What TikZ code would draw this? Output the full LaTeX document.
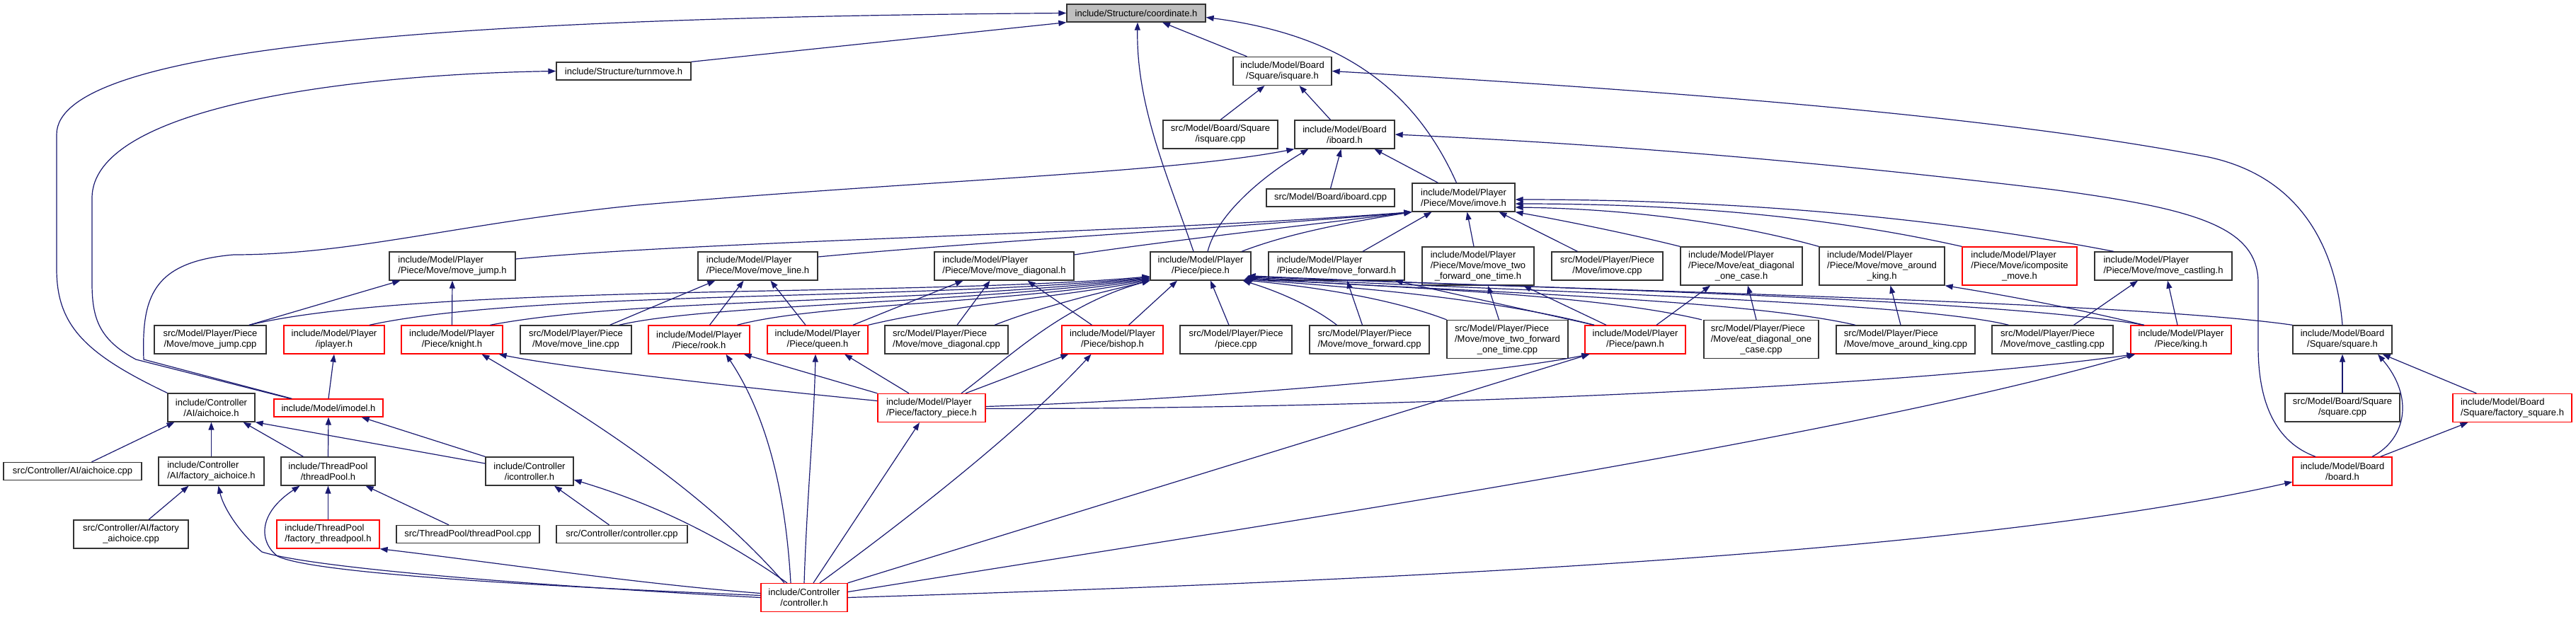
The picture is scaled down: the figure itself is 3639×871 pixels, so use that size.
\documentclass[tikz,border=0pt]{standalone}
\usepackage{fontspec}
\setmainfont{Liberation Sans}
\usetikzlibrary{arrows.meta}
\definecolor{midnight}{HTML}{191970}
\newcommand\lft[2]{\begin{tabular}[b]{@{}l@{}}#1\\#2\end{tabular}}

\begin{document}
\begin{tikzpicture}[x=1pt,y=-1pt,
  file/.style={draw=black!80, line width=1.3pt, fill=white, inner sep=2pt, align=center,
    minimum height=25pt, font=\fontsize{13}{15}\selectfont},
  w/.style={minimum width=#1},
  two/.style={minimum height=40pt},
  three/.style={minimum height=54pt},
  lalign/.style={align=left},
  hot/.style={draw=red},
  root/.style={fill=black!25},
  dep/.style={draw=midnight, line width=1.2pt, -{Triangle[length=11pt,width=8pt]}}]
\useasboundingbox (0,0) rectangle (3639,871);

% top levels
\node[file,root,w=196] (coord) at (1605,18.5) {include/Structure/coordinate.h};
\node[file,w=190] (turnmove) at (881,100.5) {include/Structure/turnmove.h};
\node[file,two,w=139] (isquare) at (1811.5,100.5) {include/Model/Board\\/Square/isquare.h};
\node[file,two,w=162] (isquarecpp) at (1724,190) {src/Model/Board/Square\\/isquare.cpp};
\node[file,two,w=141] (iboard) at (1899.5,190) {include/Model/Board\\/iboard.h};
\node[file,w=181] (iboardcpp) at (1879.5,279.5) {src/Model/Board/iboard.cpp};
\node[file,two,w=145] (imove) at (2067.5,279) {include/Model/Player\\/Piece/Move/imove.h};

% moves
\node[file,two,lalign,w=178] (movejump) at (639,376) {include/Model/Player\\/Piece/Move/move\_jump.h};
\node[file,two,lalign,w=169] (moveline) at (1070.5,376) {include/Model/Player\\/Piece/Move/move\_line.h};
\node[file,two,lalign,w=197] (movediag) at (1418.5,376) {include/Model/Player\\/Piece/Move/move\_diagonal.h};
\node[file,two,w=142] (piece) at (1696,376) {include/Model/Player\\/Piece/piece.h};
\node[file,two,lalign,w=192] (moveforward) at (1888,376) {include/Model/Player\\/Piece/Move/move\_forward.h};
\node[file,three,w=158] (movetwo) at (2088,376) {\lft{include/Model/Player}{/Piece/Move/move\_two}\\\_forward\_one\_time.h};
\node[file,two,w=157] (imovecpp) at (2270.5,376) {src/Model/Player/Piece\\/Move/imove.cpp};
\node[file,three,w=172] (eatdiag) at (2460,376) {\lft{include/Model/Player}{/Piece/Move/eat\_diagonal}\\\_one\_case.h};
\node[file,three,w=177] (movearound) at (2658.5,376) {\lft{include/Model/Player}{/Piece/Move/move\_around}\\\_king.h};
\node[file,three,hot,w=162] (icomposite) at (2853,376) {\lft{include/Model/Player}{/Piece/Move/icomposite}\\\_move.h};
\node[file,two,lalign,w=194] (movecastling) at (3056,376) {include/Model/Player\\/Piece/Move/move\_castling.h};

% pieces
\node[file,two,w=158] (movejumpcpp) at (297,480) {src/Model/Player/Piece\\/Move/move\_jump.cpp};
\node[file,two,hot,w=142] (iplayer) at (472,480) {include/Model/Player\\/iplayer.h};
\node[file,two,hot,w=143] (knight) at (638.5,480) {include/Model/Player\\/Piece/knight.h};
\node[file,two,w=157] (movelinecpp) at (813.5,480) {src/Model/Player/Piece\\/Move/move\_line.cpp};
\node[file,two,hot,w=143] (rook) at (987.5,480) {include/Model/Player\\/Piece/rook.h};
\node[file,two,hot,w=142] (queen) at (1155,480) {include/Model/Player\\/Piece/queen.h};
\node[file,two,lalign,w=174] (movediagcpp) at (1337,480) {src/Model/Player/Piece\\/Move/move\_diagonal.cpp};
\node[file,two,hot,w=143] (bishop) at (1571.5,480) {include/Model/Player\\/Piece/bishop.h};
\node[file,two,w=158] (piececpp) at (1746,480) {src/Model/Player/Piece\\/piece.cpp};
\node[file,two,lalign,w=169] (moveforwardcpp) at (1934.5,480) {src/Model/Player/Piece\\/Move/move\_forward.cpp};
\node[file,three,w=171] (movetwocpp) at (2129.5,479.5) {\lft{src/Model/Player/Piece}{/Move/move\_two\_forward}\\\_one\_time.cpp};
\node[file,two,hot,w=142] (pawn) at (2310,480) {include/Model/Player\\/Piece/pawn.h};
\node[file,three,w=162] (eatdiagcpp) at (2488,479.5) {\lft{src/Model/Player/Piece}{/Move/eat\_diagonal\_one}\\\_case.cpp};
\node[file,two,lalign,w=196] (movearoundcpp) at (2692,480) {src/Model/Player/Piece\\/Move/move\_around\_king.cpp};
\node[file,two,lalign,w=171] (movecastlingcpp) at (2899.5,480) {src/Model/Player/Piece\\/Move/move\_castling.cpp};
\node[file,two,hot,w=142] (king) at (3081,480) {include/Model/Player\\/Piece/king.h};
\node[file,two,w=140] (square) at (3309,480) {include/Model/Board\\/Square/square.h};

% lower part
\node[file,two,w=123] (aichoice) at (298.5,576) {include/Controller\\/AI/aichoice.h};
\node[file,hot,w=154] (imodel) at (464,576.5) {include/Model/imodel.h};
\node[file,two,hot,lalign,w=152] (factorypiece) at (1316,576.5) {include/Model/Player\\/Piece/factory\_piece.h};
\node[file,two,w=162] (squarecpp) at (3309,576) {src/Model/Board/Square\\/square.cpp};
\node[file,two,hot,lalign,w=168] (factorysquare) at (3549,576.5) {include/Model/Board\\/Square/factory\_square.h};
\node[file,w=195] (aichoicecpp) at (102.5,666) {src/Controller/AI/aichoice.cpp};
\node[file,two,lalign,w=149] (factoryaichoice) at (298.5,666) {include/Controller\\/AI/factory\_aichoice.h};
\node[file,two,w=133] (threadpool) at (463.5,666) {include/ThreadPool\\/threadPool.h};
\node[file,two,w=124] (icontroller) at (748,666) {include/Controller\\/icontroller.h};
\node[file,two,hot,w=140] (board) at (3309,666) {include/Model/Board\\/board.h};
\node[file,two,w=162] (factoryaichoicecpp) at (185,755) {src/Controller/AI/factory\\\_aichoice.cpp};
\node[file,two,hot,lalign,w=145] (factorythreadpool) at (463.5,755) {include/ThreadPool\\/factory\_threadpool.h};
\node[file,w=202] (threadpoolcpp) at (661,755) {src/ThreadPool/threadPool.cpp};
\node[file,w=185] (controllercpp) at (878.5,755) {src/Controller/controller.cpp};
\node[file,two,hot,w=122] (controller) at (1136,844.5) {include/Controller\\/controller.h};

% coordinate.h
\draw[dep] (turnmove.north east) -- (coord.south west);
\draw[dep] (aichoice.north west) .. controls (120,500) and (80,460) .. (80,380) -- (80,190) .. controls (80,70) and (600,25) .. (coord.west);
\draw[dep] ([xshift=-50]isquare.north) -- ([xshift=37]coord.south);
\draw[dep] ([xshift=-10]piece.north) .. controls (1650,250) and (1605,150) .. ([xshift=2]coord.south);
\draw[dep] ([xshift=-10]imove.north) .. controls (2000,130) and (1900,50) .. ([yshift=-6]coord.east);

% turnmove.h, iboard.h, isquare.h
\draw[dep] ([xshift=24]imodel.north west) -- (192,508) .. controls (140,480) and (130,450) .. (130,400) -- (130,280) .. controls (130,150) and (500,105) .. (turnmove.west);
\draw[dep] ([xshift=26]imodel.north west) -- (203,508) .. controls (200,420) and (215,370) .. (330,360) .. controls (500,360) and (650,315) .. (900,290) .. controls (1300,255) and (1650,245) .. (iboard.south west);
\draw[dep] (isquarecpp.north) -- ([xshift=-25]isquare.south);
\draw[dep] ([xshift=-20]iboard.north) -- ([xshift=24]isquare.south);
\draw[dep] (square.north) .. controls (3300,350) and (3250,250) .. (3120,222) .. controls (2800,160) and (2300,125) .. (isquare.east);
\draw[dep] (iboardcpp.north) -- ([xshift=-5]iboard.south);
\draw[dep] ([xshift=-36]imove.north) -- ([xshift=42]iboard.south);
\draw[dep] ([xshift=10]piece.north) .. controls (1720,300) and (1790,245) .. ([xshift=20]iboard.south west);
\draw[dep] ([xshift=-38]board.north) .. controls (3215,625) and (3190,570) .. (3190,490) -- (3190,400) .. controls (3190,320) and (3100,295) .. (2900,268) .. controls (2600,232) and (2300,205) .. (iboard.east);

% imove.h
\draw[dep] ([yshift=10]movejump.east) .. controls (1000,340) and (1600,330) .. (imove.south west);
\draw[dep] ([yshift=13]moveline.east) .. controls (1400,340) and (1800,318) .. (imove.south west);
\draw[dep] ([yshift=16]movediag.east) .. controls (1650,340) and (1850,318) .. (imove.south west);
\draw[dep] ([xshift=58]piece.north) .. controls (1820,330) and (1900,315) .. (imove.south west);
\draw[dep] ([xshift=37]moveforward.north) -- ([xshift=-45]imove.south);
\draw[dep] ([xshift=-6]movetwo.north) -- ([xshift=5]imove.south);
\draw[dep] ([xshift=-42]imovecpp.north) -- ([xshift=50]imove.south);
\draw[dep] (eatdiag.north west) .. controls (2300,330) and (2200,310) .. (imove.south east);
\draw[dep] (movearound.north west) .. controls (2450,315) and (2300,295) .. ([yshift=-14]imove.east);
\draw[dep] (icomposite.north west) .. controls (2600,310) and (2400,288) .. ([yshift=-9]imove.east);
\draw[dep] ([xshift=-70]movecastling.north) .. controls (2700,300) and (2400,282) .. ([yshift=-3]imove.east);

% piece.h from the left
\draw[dep] ([xshift=55]movejumpcpp.north) .. controls (600,400) and (1300,420) .. ([yshift=6]piece.south west);
\draw[dep] ([xshift=50]iplayer.north) .. controls (750,410) and (1300,425) .. ([yshift=5]piece.south west);
\draw[dep] ([xshift=54]knight.north) .. controls (900,420) and (1300,430) .. ([yshift=4]piece.south west);
\draw[dep] ([xshift=61]movelinecpp.north) .. controls (1000,430) and (1350,430) .. ([yshift=3]piece.south west);
\draw[dep] ([xshift=54]rook.north) .. controls (1150,430) and (1400,430) .. ([yshift=2]piece.south west);
\draw[dep] (queen.north east) .. controls (1350,430) and (1500,420) .. ([yshift=1]piece.south west);
\draw[dep] ([xshift=68]movediagcpp.north) .. controls (1480,430) and (1570,410) .. (piece.south west);
\draw[dep] ([xshift=23]bishop.north) -- ([xshift=-33]piece.south);
\draw[dep] ([xshift=-10]piececpp.north) -- ([xshift=14]piece.south);
\draw[dep] ([xshift=42]factorypiece.north) .. controls (1420,510) and (1500,430) .. (piece.south west);

% piece.h from the right
\draw[dep] ([xshift=-46]moveforwardcpp.north) .. controls (1850,430) and (1800,410) .. ([xshift=-12]piece.south east);
\draw[dep] ([xshift=-86]movetwocpp.north) .. controls (1960,420) and (1850,405) .. ([xshift=-11,yshift=1]piece.south east);
\draw[dep] ([xshift=-58]pawn.north) .. controls (2100,420) and (1900,405) .. ([xshift=-10,yshift=2]piece.south east);
\draw[dep] ([xshift=-84]eatdiagcpp.north) .. controls (2250,415) and (1950,405) .. ([xshift=-9,yshift=3]piece.south east);
\draw[dep] ([xshift=-71]movearoundcpp.north) .. controls (2450,420) and (2000,410) .. ([xshift=-8,yshift=4]piece.south east);
\draw[dep] ([xshift=-62]movecastlingcpp.north) .. controls (2700,425) and (2100,410) .. ([xshift=-7,yshift=5]piece.south east);
\draw[dep] ([xshift=-52]king.north) .. controls (2800,420) and (2100,405) .. ([xshift=-6,yshift=6]piece.south east);
\draw[dep] (square.north west) .. controls (3000,425) and (2200,410) .. ([xshift=-5,yshift=7]piece.south east);

% move headers
\draw[dep] ([xshift=55]movejumpcpp.north) -- ([xshift=16]movejump.south west);
\draw[dep] (knight.north) -- (movejump.south);
\draw[dep] (imodel.north) -- (iplayer.south);
\draw[dep] ([xshift=48]movelinecpp.north) -- ([xshift=25]moveline.south west);
\draw[dep] ([xshift=15]rook.north) -- ([xshift=-20]moveline.south);
\draw[dep] ([xshift=-17]queen.north) -- ([xshift=18]moveline.south);
\draw[dep] ([xshift=50]queen.north) -- ([xshift=-58]movediag.south);
\draw[dep] ([xshift=15]movediagcpp.north) -- ([xshift=-20]movediag.south);
\draw[dep] ([xshift=-29]bishop.north) -- ([xshift=33]movediag.south);
\draw[dep] ([xshift=-10]moveforwardcpp.north) -- ([xshift=15]moveforward.south);
\draw[dep] ([xshift=-58]pawn.north) -- ([xshift=-14]moveforward.south east);
\draw[dep] ([xshift=-41]pawn.north) -- ([xshift=64]movetwo.south);
\draw[dep] ([xshift=-12]movetwocpp.north) -- ([xshift=14]movetwo.south);
\draw[dep] ([xshift=30]pawn.north) -- ([xshift=-44]eatdiag.south);
\draw[dep] ([xshift=-7]eatdiagcpp.north) -- ([xshift=9]eatdiag.south);
\draw[dep] ([xshift=-7]movearoundcpp.north) -- ([xshift=12]movearound.south);
\draw[dep] ([xshift=19]king.north west) .. controls (2950,440) and (2850,420) .. (movearound.south east);
\draw[dep] ([xshift=30]movecastlingcpp.north) -- ([xshift=-36]movecastling.south);
\draw[dep] ([xshift=-5]king.north) -- ([xshift=6]movecastling.south);

% factory_piece.h
\draw[dep] (factorypiece.north west) -- ([xshift=-9]rook.south east);
\draw[dep] ([xshift=-32]factorypiece.north) -- ([xshift=38]queen.south);
\draw[dep] ([xshift=48]factorypiece.north) -- ([xshift=10]bishop.south west);
\draw[dep] ([yshift=10]factorypiece.west) .. controls (1050,548) and (800,520) .. ([xshift=-6]knight.south east);
\draw[dep] ([yshift=2]factorypiece.east) .. controls (1700,565) and (2100,530) .. ([xshift=7]pawn.south west);
\draw[dep] ([yshift=-1]factorypiece.east) .. controls (2000,578) and (2700,545) .. ([xshift=6]king.south west);

% controller.h
\draw[dep] ([xshift=13]controller.north) -- ([xshift=-17]factorypiece.south);
\draw[dep] ([xshift=-28]controller.north) .. controls (1000,700) and (850,600) .. ([xshift=42]knight.south);
\draw[dep] ([xshift=-19]controller.north) .. controls (1110,700) and (1085,590) .. ([xshift=38]rook.south);
\draw[dep] (controller.north) .. controls (1140,700) and (1150,600) .. ([xshift=-3]queen.south);
\draw[dep] ([xshift=22]controller.north) .. controls (1300,720) and (1450,600) .. ([xshift=-30]bishop.south);
\draw[dep] (controller.north east) -- ([xshift=7]pawn.south west);
\draw[dep] ([yshift=8]controller.east) .. controls (1800,740) and (2600,620) .. ([xshift=7]king.south west);
\draw[dep] (controller.east) .. controls (2000,820) and (2800,780) .. ([yshift=-15]board.west);
\draw[dep] (controller.west) .. controls (800,830) and (450,805) .. (370,780) .. controls (335,750) and (315,715) .. ([xshift=10]factoryaichoice.south);
\draw[dep] ([yshift=3]controller.west) .. controls (750,828) and (440,810) .. (392,786) .. controls (365,765) and (365,725) .. ([xshift=-40]threadpool.south);
\draw[dep] ([yshift=6]controller.west) .. controls (900,825) and (700,795) .. (factorythreadpool.south east);
\draw[dep] ([xshift=-24]controller.north) .. controls (1000,745) and (900,705) .. ([yshift=-12]icontroller.east);
\draw[dep] ([xshift=-18]controllercpp.north) -- ([xshift=35]icontroller.south);

% aichoice.h, imodel.h, threadPool.h
\draw[dep] ([xshift=27]aichoicecpp.north) -- ([xshift=-52]aichoice.south);
\draw[dep] (factoryaichoice.north) -- (aichoice.south);
\draw[dep] ([xshift=-35]threadpool.north) -- ([xshift=45]aichoice.south);
\draw[dep] ([yshift=11]icontroller.west) -- (aichoice.south east);
\draw[dep] (threadpool.north) -- (imodel.south);
\draw[dep] (icontroller.north west) -- ([xshift=-31]imodel.south east);
\draw[dep] ([xshift=25]factoryaichoicecpp.north) -- ([xshift=-32]factoryaichoice.south);
\draw[dep] (factorythreadpool.north) -- (threadpool.south);
\draw[dep] ([xshift=-27]threadpoolcpp.north) -- ([xshift=-14]threadpool.south east);

% square.h, board.h
\draw[dep] (squarecpp.north) -- (square.south);
\draw[dep] ([xshift=42]board.north) .. controls (3400,620) and (3410,560) .. ([xshift=50]square.south);
\draw[dep] ([xshift=34]factorysquare.north west) -- ([xshift=-14]square.south east);
\draw[dep] ([xshift=-17]board.north east) -- ([xshift=22]factorysquare.south west);
\end{tikzpicture}
\end{document}
